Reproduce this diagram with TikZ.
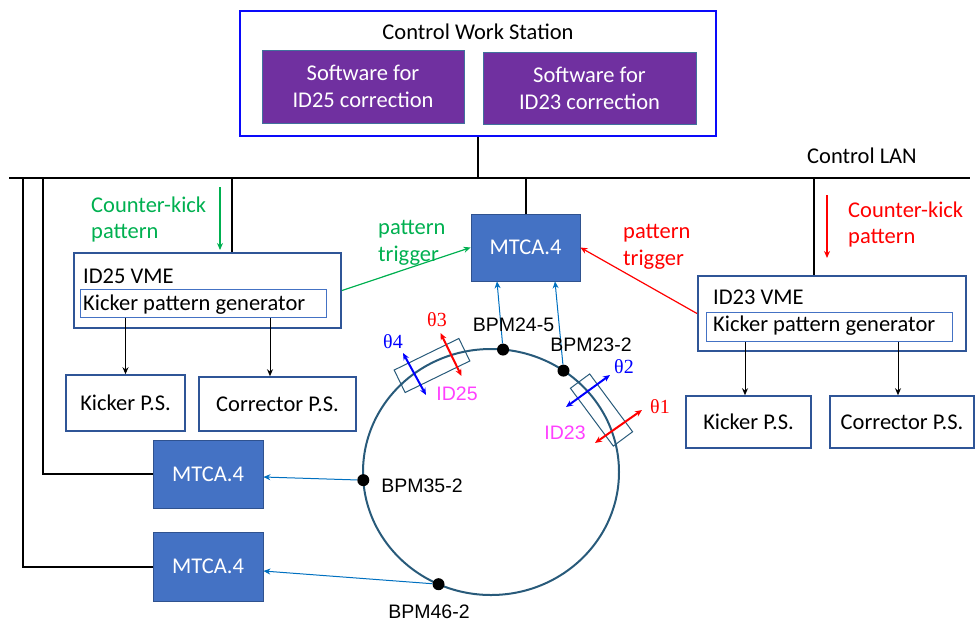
\documentclass[tikz,border=0pt]{standalone}
\usepackage{fontspec}
\setmainfont{Carlito}
\newfontfamily\arialf{Liberation Sans}
\newfontfamily\timesf{Liberation Serif}
\usetikzlibrary{arrows.meta,calc}
\definecolor{cwsblue}{RGB}{10,10,250}
\definecolor{swpurple}{RGB}{112,48,160}
\definecolor{swedge}{RGB}{65,113,156}
\definecolor{mtfill}{RGB}{68,114,196}
\definecolor{mtedge}{RGB}{47,82,143}
\definecolor{vmeedge}{RGB}{47,85,151}
\definecolor{inedge}{RGB}{68,114,196}
\definecolor{ringc}{RGB}{40,90,122}
\definecolor{bpmc}{RGB}{0,112,192}
\definecolor{grn}{RGB}{0,176,80}
\definecolor{rd}{RGB}{255,0,0}
\definecolor{mag}{RGB}{255,64,255}
\definecolor{thblue}{RGB}{0,0,255}
\begin{document}
\begin{tikzpicture}[x=1pt,y=-1pt,
  font=\fontsize{22.5}{27}\selectfont,
  >={Stealth[length=7pt,width=6pt]},
  txt/.style={inner sep=0pt},
  lbl/.style={inner sep=0pt, font=\arialf\fontsize{19.5}{23}\selectfont},
  th/.style={inner sep=0pt, font=\timesf\fontsize{20}{24}\selectfont},
  cwsbox/.style={draw=cwsblue, line width=2.5pt, minimum width=476pt, minimum height=125pt, inner sep=0pt},
  swbox/.style={draw=swedge, line width=0.8pt, fill=swpurple, text=white, align=center, inner sep=0pt},
  mtbox/.style={draw=mtedge, line width=0.8pt, fill=mtfill, text=white, minimum width=110pt, minimum height=68pt, inner sep=0pt},
  vmebox/.style={draw=vmeedge, line width=2pt, minimum width=267pt, minimum height=75pt, inner sep=0pt},
  genbox/.style={draw=inedge, line width=1pt, minimum width=246pt, minimum height=28pt, inner sep=0pt},
  psbox/.style={draw=vmeedge, line width=1.6pt, minimum height=55pt, inner sep=0pt},
  bus/.style={line width=2pt, black},
  lanline/.style={line width=2.5pt, black},
  downarr/.style={->, line width=0.9pt, black},
  bpmline/.style={->, bpmc, line width=1pt},
  grnarr/.style={->, grn, line width=1.2pt},
  redarr/.style={->, rd, line width=1.2pt},
  ringline/.style={draw=ringc, line width=2pt},
  und/.style={draw=ringc, line width=1pt, minimum width=72pt, minimum height=25pt, inner sep=0pt},
  bpmdot/.style={circle, fill=black, minimum size=12pt, inner sep=0pt},
  kickarr/.style={<->, line width=2pt}
]
\useasboundingbox (0,0) rectangle (975,622);

% Control work station
\node[cwsbox] (cws) at (478,73.5) {};
\node[txt, anchor=base] (cwst) at (478,39) {Control Work Station};
\node[swbox, minimum width=202pt, minimum height=73pt] (sw25) at (363,86.5) {Software for\\ID25 correction};
\node[swbox, minimum width=213pt, minimum height=72pt] (sw23) at (589.5,88) {Software for\\ID23 correction};

% LAN
\coordinate (lanL) at (9,178);
\coordinate (lanR) at (970,178);
\coordinate (j1) at (23,178);
\coordinate (j2) at (43,178);
\node[txt, anchor=base west] (lant) at (807,163) {Control LAN};

% MTCA boxes
\node[mtbox, minimum width=109pt, minimum height=67pt] (mt) at (525.5,247.5) {MTCA.4};
\node[mtbox] (mtA) at (208,474) {MTCA.4};
\node[mtbox, minimum height=69pt] (mtB) at (208,566.5) {MTCA.4};

% ID25 VME
\node[vmebox] (v25) at (207.5,290.5) {};
\node[genbox] (g25) at (203,303) {};
\node[txt, anchor=base west] (v25t) at (83,283) {ID25 VME};
\node[txt, anchor=base west] (g25t) at (83,310) {Kicker pattern generator};

% ID23 VME
\node[vmebox, minimum width=268pt] (v23) at (832,313.5) {};
\node[genbox, minimum height=29pt] (g23) at (829,326.5) {};
\node[txt, anchor=base west] (v23t) at (713,304) {ID23 VME};
\node[txt, anchor=base west] (g23t) at (713,331) {Kicker pattern generator};

% power supplies
\node[psbox, minimum width=119pt, minimum height=56pt] (ps25a) at (125.5,403) {Kicker P.S.};
\node[psbox, minimum width=157pt, minimum height=54pt] (ps25b) at (277.5,404) {Corrector P.S.};
\node[psbox, minimum width=125pt, minimum height=52pt] (ps23a) at (748.5,422) {Kicker P.S.};
\node[psbox, minimum width=144pt, minimum height=52pt] (ps23b) at (902,422) {Corrector P.S.};

% bus lines
\draw[lanline] (lanL) -- (lanR);
\draw[bus] (cws.south) -- (cws.south |- lanL);
\draw[bus] (mt.north) -- (mt.north |- lanL);
\coordinate (v25top) at ([xshift=24.5pt]v25.north);
\coordinate (v23top) at ([xshift=-18pt]v23.north);
\draw[bus] (v25top) -- (v25top |- lanL);
\draw[bus] (v23top) -- (v23top |- lanL);
\draw[bus] (j1) |- (mtB.west);
\draw[bus] (j2) |- (mtA.west);

% generator -> power supplies
\coordinate (ps25bt) at ([xshift=-7.5pt]ps25b.north);
\coordinate (ps23at) at ([xshift=-3.5pt]ps23a.north);
\coordinate (ps23bt) at ([xshift=-4pt]ps23b.north);
\draw[downarr] (g25.south -| ps25a.north) -- (ps25a.north);
\draw[downarr] (g25.south -| ps25bt) -- (ps25bt);
\draw[downarr] (g23.south -| ps23at) -- (ps23at);
\draw[downarr] (g23.south -| ps23bt) -- (ps23bt);

% counter-kick arrows and texts
\coordinate (gk1) at (220,187);
\coordinate (gk2) at (220,250);
\draw[grnarr] (gk1) -- (gk2);
\coordinate (rk1) at (827,195);
\coordinate (rk2) at (827,258);
\draw[redarr] (rk1) -- (rk2);
\node[txt, anchor=base west, text=grn] (gck1) at (91,212) {Counter-kick};
\node[txt, anchor=base west, text=grn] (gck2) at (91,238) {pattern};
\node[txt, anchor=base west, text=rd] (rck1) at (848,217) {Counter-kick};
\node[txt, anchor=base west, text=rd] (rck2) at (848,243) {pattern};

% pattern trigger
\draw[grnarr] (v25.east) -- (mt.west);
\draw[redarr] (v23.west) -- (mt.east);
\node[txt, anchor=base west, text=grn] (gpt1) at (378,234) {pattern};
\node[txt, anchor=base west, text=grn] (gpt2) at (378,261) {trigger};
\node[txt, anchor=base west, text=rd] (rpt1) at (623,238) {pattern};
\node[txt, anchor=base west, text=rd] (rpt2) at (623,265) {trigger};

% ring
\draw[ringline] (491,472) ellipse [x radius=128, y radius=123];
\node[und, rotate=26] (u25) at (432,365.5) {};
\node[und, rotate=-53.4, minimum height=24pt] (u23) at (601.5,410) {};

% BPMs
\node[bpmdot] (b24) at ({491+128*cos(84.6)},{472-123*sin(84.6)}) {};
\node[bpmdot] (b23) at ({491+128*cos(55.5)},{472-123*sin(55.5)}) {};
\node[bpmdot] (b35) at ({491+128*cos(183.8)},{472-123*sin(183.8)}) {};
\node[bpmdot] (b46) at ({491+128*cos(245.8)},{472-123*sin(245.8)}) {};
\draw[bpmline] (b24) -- ([xshift=-28.5pt]mt.south);
\draw[bpmline] (b23) -- ([xshift=29.5pt]mt.south);
\draw[bpmline] (b35) -- ([yshift=-3pt]mtA.east);
\draw[bpmline] (b46) -- ([yshift=-4.5pt]mtB.east);
\node[lbl] (l24) at (513.5,325) {BPM24-5};
\node[lbl] (l23) at (591,345) {BPM23-2};
\node[lbl] (l35) at (422,486) {BPM35-2};
\node[lbl] (l46) at (429,612) {BPM46-2};

% kicks
\coordinate (t3a) at (440.5,333);
\coordinate (t3b) at (461.5,376);
\coordinate (t4a) at (403,353);
\coordinate (t4b) at (426,395);
\coordinate (t2a) at (566,407);
\coordinate (t2b) at (610,375);
\coordinate (t1a) at (595,443);
\coordinate (t1b) at (642,410);
\draw[kickarr, rd] (t3a) -- (t3b);
\draw[kickarr, thblue] (t4a) -- (t4b);
\draw[kickarr, thblue] (t2a) -- (t2b);
\draw[kickarr, rd] (t1a) -- (t1b);
\node[th, text=rd] (th3) at (437,320) {θ3};
\node[th, text=thblue] (th4) at (393,342) {θ4};
\node[th, text=thblue] (th2) at (624,367) {θ2};
\node[th, text=rd] (th1) at (660,407) {θ1};
\node[lbl, text=mag] (id25) at (457,394) {ID25};
\node[lbl, text=mag] (id23) at (565,433) {ID23};
\end{tikzpicture}
\end{document}
